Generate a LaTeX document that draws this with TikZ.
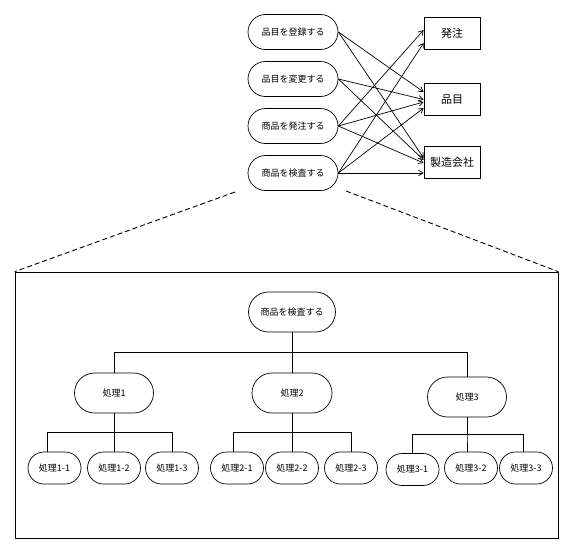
\documentclass[tikz,border=0pt]{standalone}
\usepackage{fontspec}
\newfontfamily\jpfont{Noto Sans CJK JP}
\usetikzlibrary{shapes.misc,arrows.meta}

\begin{document}
\begin{tikzpicture}[x=1pt,y=-1pt,line width=0.7pt,
    every node/.append style={inner sep=0pt},
    usecase/.style={draw,rounded rectangle,minimum width=90pt,minimum height=35pt,font=\jpfont\fontsize{9}{10}\selectfont},
    entity/.style={draw,rectangle,minimum width=56pt,minimum height=32pt,font=\jpfont\fontsize{11}{13}\selectfont},
    proc/.style={draw,rounded rectangle,minimum width=80pt,minimum height=40pt,font=\jpfont\fontsize{9}{10}\selectfont},
    subproc/.style={draw,rounded rectangle,minimum width=53pt,minimum height=32pt,font=\jpfont\fontsize{9}{10}\selectfont},
    uses/.style={-{Straight Barb[length=4.5pt,width=5.5pt]}},
    zoomline/.style={line width=0.9pt,dash pattern=on 5pt off 3pt}]
    \useasboundingbox (0,0) rectangle (572,552);
    % use cases and entities
    \node [usecase] (r1) at (293,32) {品目を登録する};
    \node [usecase] (r2) at (293,79) {品目を変更する};
    \node [usecase] (r3) at (293,126) {商品を発注する};
    \node [usecase] (r4) at (293,173) {商品を検査する};
    \node [entity] (e1) at (452,33) {発注};
    \node [entity] (e2) at (452,99.5) {品目};
    \node [entity] (e3) at (452,162) {製造会社};
    \draw [uses] (r1.east) -- ([yshift=7.5pt]e2.west);
    \draw [uses] (r1.east) -- ([yshift=4pt]e3.west);
    \draw [uses] (r2.east) -- (e2.west);
    \draw [uses] (r2.east) -- ([yshift=2pt]e3.west);
    \draw [uses] (r3.east) -- ([yshift=3pt]e1.west);
    \draw [uses] (r3.east) -- ([yshift=-2.5pt]e2.west);
    \draw [uses] (r3.east) -- ([yshift=-1pt]e3.west);
    \draw [uses] (r4.east) -- ([yshift=-10pt]e1.west);
    \draw [uses] (r4.east) -- ([yshift=-8.5pt]e2.west);
    \draw [uses] (r4.east) -- ([yshift=-11pt]e3.west);
    % zoomed frame
    \node [draw,minimum width=543pt,minimum height=266pt] (frame) at (286.5,405) {};
    \coordinate (zl) at (235,192);
    \coordinate (zr) at (346,191);
    \draw [zoomline] (zl) -- (frame.north west);
    \draw [zoomline] (zr) -- (frame.north east);
    % process tree
    \node [proc,minimum width=87pt] (t0) at (292,312) {商品を検査する};
    \node [proc,minimum width=79pt] (p1) at (114,393) {処理1};
    \node [proc] (p2) at (292,393) {処理2};
    \node [proc,minimum width=79pt] (p3) at (467,397) {処理3};
    \node [subproc] (c11) at (54.5,468) {処理1-1};
    \node [subproc] (c12) at (114,468) {処理1-2};
    \node [subproc] (c13) at (172,468) {処理1-3};
    \node [subproc] (c21) at (237,468) {処理2-1};
    \node [subproc] (c22) at (292,468) {処理2-2};
    \node [subproc] (c23) at (351,468) {処理2-3};
    \node [subproc] (c31) at (412.5,469.5) {処理3-1};
    \node [subproc] (c32) at (471,468) {処理3-2};
    \node [subproc] (c33) at (526,468) {処理3-3};
    \draw (t0.south) -- ++(0,20) -| (p1.north);
    \draw (t0.south) -- (p2.north);
    \draw (t0.south) -- ++(0,20) -| (p3.north);
    \draw (p1.south) -- ++(0,19) -| ([xshift=-7pt]c11.north);
    \draw (p1.south) -- (c12.north);
    \draw (p1.south) -- ++(0,19) -| (c13.north);
    \draw (p2.south) -- ++(0,19) -| ([xshift=-4pt]c21.north);
    \draw (p2.south) -- (c22.north);
    \draw (p2.south) -- ++(0,19) -| (c23.north);
    \draw (p3.south) -- ++(0,17) -| (c31.north);
    \draw (p3.south) -- ++(0,17) -| ([xshift=-4pt]c32.north);
    \draw (p3.south) -- ++(0,17) -| ([xshift=-3pt]c33.north);
\end{tikzpicture}
\end{document}
